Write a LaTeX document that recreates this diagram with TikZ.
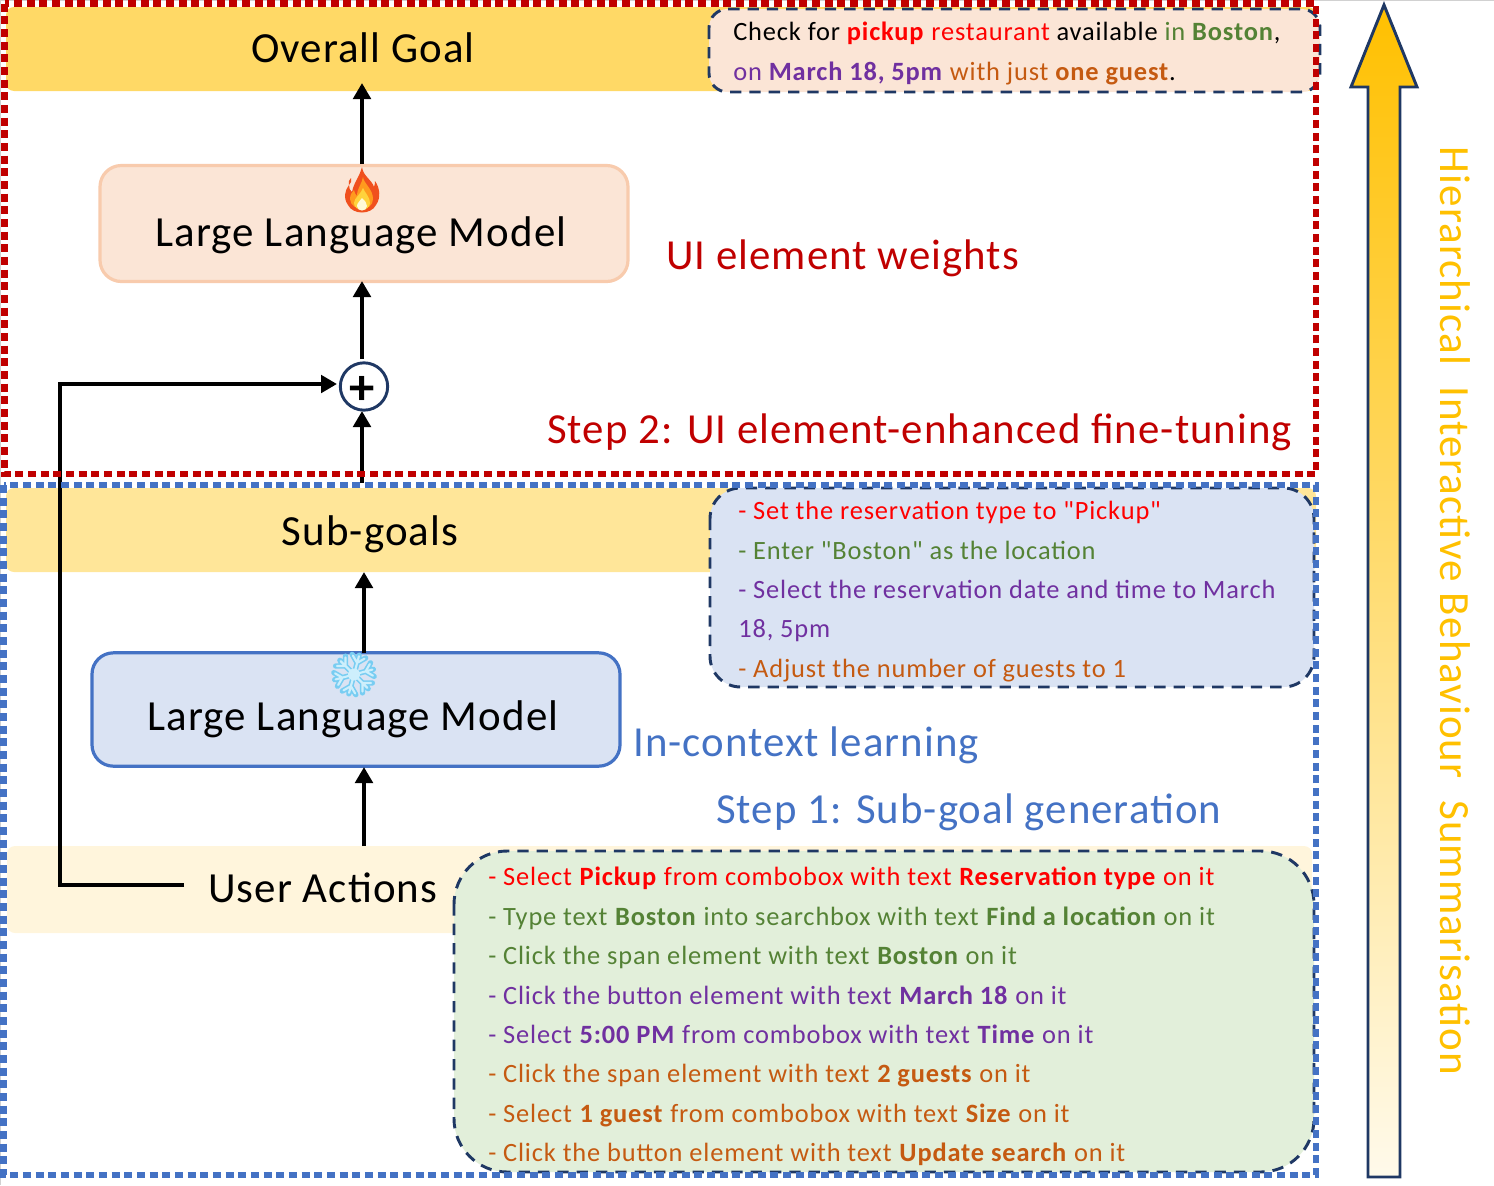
\documentclass[tikz,border=0pt]{standalone}
\usepackage{fontspec}
\setmainfont{Carlito}
\newfontfamily\spaced[LetterSpace=2.5]{Carlito}
\newfontfamily\itemfont[LetterSpace=3.25]{Carlito}
\usetikzlibrary{arrows.meta}
\definecolor{cred}{HTML}{FF0000}
\definecolor{cgreen}{HTML}{548235}
\definecolor{cpurple}{HTML}{7030A0}
\definecolor{corange}{HTML}{C55A11}
\definecolor{navy}{HTML}{1F3864}
\definecolor{dred}{HTML}{C00000}
\definecolor{dblue}{HTML}{4472C4}
\definecolor{amber}{HTML}{FFC000}
\definecolor{FFD}{HTML}{FFE699}
\definecolor{FFC}{HTML}{FFF5DC}
\definecolor{FFA}{HTML}{FFD966}
\definecolor{PE}{HTML}{FBE5D6}
\definecolor{PB}{HTML}{F8CBAD}
\definecolor{LB}{HTML}{DAE3F3}
\definecolor{LG}{HTML}{E2EFDA}
\definecolor{flameA}{HTML}{F0501E}
\definecolor{flameB}{HTML}{FF9A1E}
\definecolor{flameC}{HTML}{FFD23C}
\definecolor{flameD}{HTML}{FFFBD8}
\definecolor{iceA}{HTML}{78CDF2}
\definecolor{iceB}{HTML}{CDEFFC}
\newcommand{\rd}[1]{\textcolor{cred}{#1}}
\newcommand{\gr}[1]{\textcolor{cgreen}{#1}}
\newcommand{\pu}[1]{\textcolor{cpurple}{#1}}
\newcommand{\og}[1]{\textcolor{corange}{#1}}
\tikzset{
  x=0.75pt,y=-0.75pt,
  band/.style={fill=#1,draw=none,rounded corners=6pt},
  notebox/.style={fill=#1,draw=navy,line width=2.2pt,dash pattern=on 8.5pt off 6pt},
  llm/.style={line width=2.4pt,rounded corners=16pt},
  flow/.style={line width=3.4pt,draw=black,-{Triangle[length=12pt,width=13pt]}},
  title/.style={font=\fontsize{32.2}{32}\selectfont\spaced,anchor=base,text=black,inner sep=0pt},
  item/.style={font=\fontsize{19.8}{20}\selectfont\itemfont,anchor=base west,inner sep=0pt},
  steplabel/.style={font=\fontsize{32.1}{32}\selectfont\spaced,anchor=base west,inner sep=0pt},
}
\begin{document}
\begin{tikzpicture}
\useasboundingbox (0,0) rectangle (1494,1185);
\draw[draw=black!18,line width=0.8pt] (0,0.5) -- (1494,0.5);
\draw[draw=black!18,line width=0.8pt] (0.5,0) -- (0.5,1185);
% bands
\fill[band=FFA] (6,7) rectangle (1316,91);
\fill[band=FFD] (6,488) rectangle (1316,572);
\fill[band=FFC] (7,846) rectangle (1312,933);
% note boxes
\draw[notebox=PE,rounded corners=14pt] (709,9) rectangle (1320,92);
\draw[notebox=LB,rounded corners=23pt] (710,488) rectangle (1314,687);
\draw[notebox=LG,rounded corners=40pt] (454,851) rectangle (1314,1172);
% band labels
\node[title] (goal) at (363,62) {Overall Goal};
\node[title] (sub) at (370,545) {Sub-goals};
\node[title,anchor=base west] (ua) at (208,902) {User Actions};
% model boxes
\node[draw=PB,fill=PE,llm,minimum width=396pt,minimum height=87pt,inner sep=0pt] (m1) at (364,223.5) {};
\node[title] (m1t) at (361,246) {Large Language Model};
\node[draw=dblue,fill=LB,llm,minimum width=396pt,minimum height=85pt,inner sep=0pt] (m2) at (356,709.5) {};
\node[title] (m2t) at (353,730) {Large Language Model};
% adder
\node[circle,draw=navy,fill=white,line width=2.2pt,minimum size=35.5pt,inner sep=0pt] (add) at (364,386.5) {};
\node[font=\fontsize{38}{38}\selectfont\bfseries,inner sep=0pt] (plus) at (362,390) {+};
% connector anchors
\coordinate (g1) at (362,83);
\coordinate (m1top) at (362,164);
\coordinate (m1bot) at (362,281);
\coordinate (addtop) at (362,359);
\coordinate (addbot) at (362,411);
\coordinate (s0) at (362,483);
\coordinate (s1) at (364,572);
\coordinate (m2top) at (364,653);
\coordinate (m2bot) at (364,767);
\coordinate (u0) at (364,846);
\coordinate (e0) at (184,885);
\coordinate (e1) at (60,885);
\coordinate (e2) at (60,384);
\coordinate (e3) at (337,384);
\draw[flow] (m1top) -- (g1);
\draw[flow] (addtop) -- (m1bot);
\draw[flow] (s0) -- (addbot);
\draw[flow] (m2top) -- (s1);
\draw[flow] (u0) -- (m2bot);
\draw[flow] (e0) -- (e1) -- (e2) -- (e3);
% flame
\begin{scope}[shift={(362,190)}]
\fill[flameA] (0,-23) .. controls (1,-14) and (10,-10) .. (12,-3)
  .. controls (13,-5) and (13,-8) .. (13,-9) .. controls (18,-2) and (19,8) .. (14,15)
  .. controls (9,25) and (-9,25) .. (-14,15) .. controls (-19,8) and (-17,0) .. (-13,-5)
  .. controls (-13,-2) and (-12,1) .. (-10,2) .. controls (-8,-8) and (-3,-12) .. (0,-23) -- cycle;
\fill[flameA] (-11,-12) .. controls (-10,-9) and (-11,-7) .. (-13,-5) .. controls (-14,-8) and (-13,-10) .. (-11,-12) -- cycle;
\fill[flameB] (1,-13) .. controls (2,-6) and (11,-1) .. (11,9) .. controls (11,22) and (-11,22) .. (-12,9)
  .. controls (-12,5) and (-10,2) .. (-8,0) .. controls (-7,4) and (-6,5) .. (-5,6) .. controls (-5,-2) and (0,-6) .. (1,-13) -- cycle;
\fill[flameC] (1,-2) .. controls (3,3) and (8,7) .. (8,13) .. controls (8,22) and (-8,22) .. (-8,13) .. controls (-8,8) and (-1,4) .. (1,-2) -- cycle;
\fill[flameD] (0,8) .. controls (3,11) and (5,13) .. (5,16) .. controls (5,22) and (-5,22) .. (-5,16) .. controls (-5,13) and (-2,11) .. (0,8) -- cycle;
\end{scope}
% snowflake
\begin{scope}[shift={(354,674.5)},rotate=15]
\foreach \a in {0,60,...,300}{
  \begin{scope}[rotate=\a]
  \draw[color=iceA,line width=4pt,line cap=round] (0,0) -- (20,0) (12,0) -- (19,-7) (12,0) -- (19,7);
  \draw[color=iceB,line width=1.6pt,line cap=round] (0,0) -- (19,0) (12,0) -- (18,-6) (12,0) -- (18,6);
  \end{scope}
}
\fill[iceB] (0,0) circle (6);
\end{scope}
% peach text
\node[item] (p1) at (733,40) {Check for \textcolor{cred}{\textbf{pickup}} \rd{restaurant} available \gr{in} \gr{\textbf{Boston}},};
\node[item] (p2) at (733,80) {\pu{on} \pu{\textbf{March 18, 5pm}} \og{with just} \og{\textbf{one guest}}.};
% blue text
\node[item] (b1) at (738,519) {\rd{- Set the reservation type to "Pickup"}};
\node[item] (b2) at (738,559) {\gr{- Enter "Boston" as the location}};
\node[item] (b3) at (738,598) {\pu{- Select the reservation date and time to March}};
\node[item] (b4) at (738,637) {\pu{18, 5pm}};
\node[item] (b5) at (738,677) {\og{- Adjust the number of guests to 1}};
% green text
\node[item] (a1) at (488,885) {\rd{- Select \textbf{Pickup} from combobox with text \textbf{Reservation type} on it}};
\node[item] (a2) at (488,925) {\gr{- Type text \textbf{Boston} into searchbox with text \textbf{Find a location} on it}};
\node[item] (a3) at (488,964) {\gr{- Click the span element with text \textbf{Boston} on it}};
\node[item] (a4) at (488,1004) {\pu{- Click the button element with text \textbf{March 18} on it}};
\node[item] (a5) at (488,1043) {\pu{- Select \textbf{5:00 PM} from combobox with text \textbf{Time} on it}};
\node[item] (a6) at (488,1082) {\og{- Click the span element with text \textbf{2 guests} on it}};
\node[item] (a7) at (488,1122) {\og{- Select \textbf{1 guest} from combobox with text \textbf{Size} on it}};
\node[item] (a8) at (488,1161) {\og{- Click the button element with text \textbf{Update search} on it}};
% step labels
\node[steplabel,text=dred] (w) at (666,269) {UI element weights};
\node[steplabel,text=dred] (s2) at (547,443) {Step 2: UI element-enhanced fine-tuning};
\node[steplabel,text=dblue] (ic) at (633,756) {In-context learning};
\node[steplabel,text=dblue] (s1t) at (716,823) {Step 1: Sub-goal generation};
% dashed frames
\draw[draw=dblue,line width=5.2pt,dash pattern=on 6pt off 3.5pt] (3.6,485) rectangle (1316,1175);
\draw[draw=dred,line width=5pt,dash pattern=on 6pt off 3.5pt] (4.5,3.5) rectangle (1316,474);
% big arrow
\path[draw=navy,line width=2.2pt,top color=amber,bottom color=amber!8!white,line join=miter]
  (1384,5) -- (1417,87) -- (1400,87) -- (1400,1177) -- (1368,1177) -- (1368,87) -- (1351,87) -- cycle;
\node[rotate=-90,text=amber,font=\fontsize{32.3}{32}\selectfont\spaced,inner sep=0pt] (side) at (1455,611) {Hierarchical\ \ Interactive Behaviour\ \ Summarisation};
\end{tikzpicture}
\end{document}
